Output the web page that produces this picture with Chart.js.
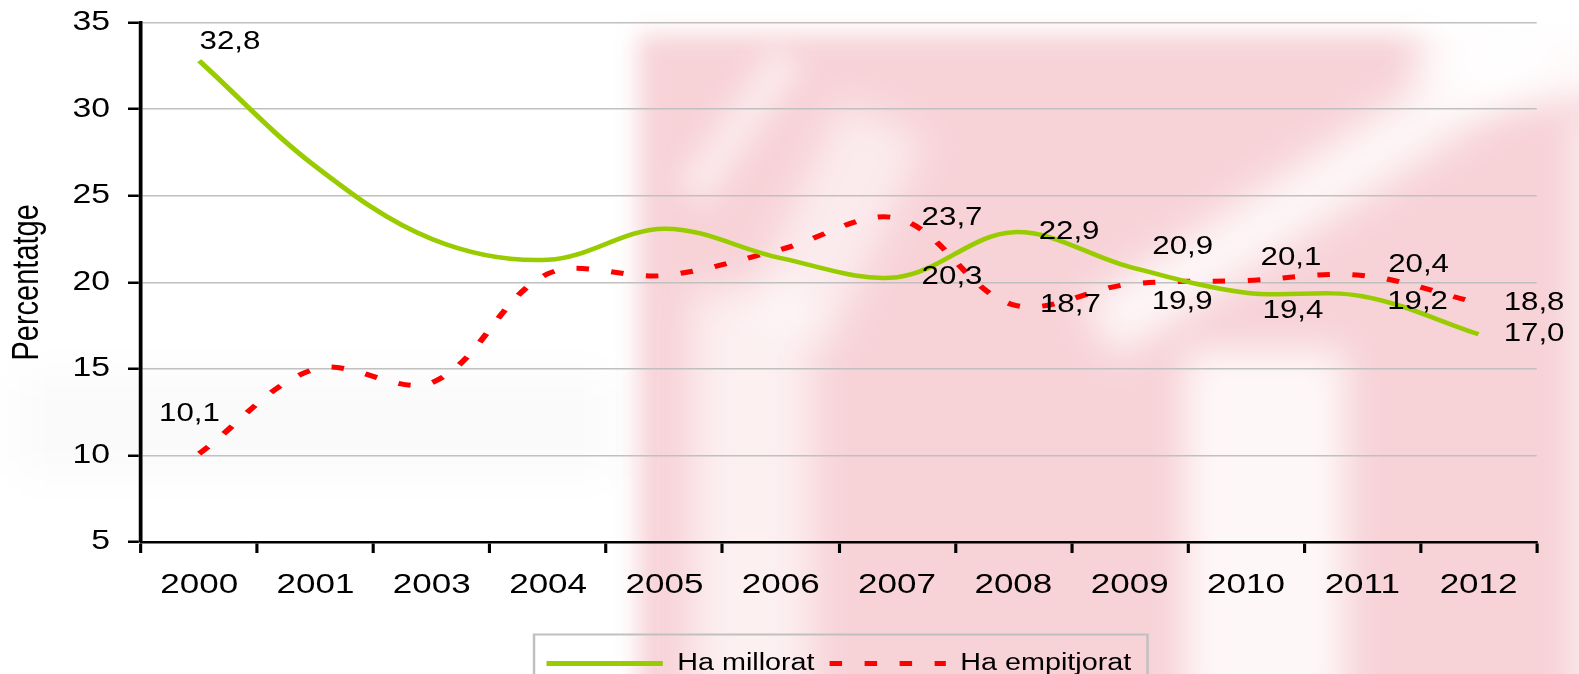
<!DOCTYPE html>
<html>
<head>
<meta charset="utf-8">
<script src="https://cdn.jsdelivr.net/npm/chart.js@4.4.1/dist/chart.umd.min.js"></script>
<style>
  html, body { margin: 0; padding: 0; background: #ffffff; overflow: hidden; }
  #wrap { position: relative; width: 1579px; height: 674px; overflow: hidden; }
  #bg { position: absolute; left: 0; top: 0; width: 1579px; height: 674px; overflow: hidden; }
  #bg div { position: absolute; }
  canvas { position: absolute; left: 0; top: 0; }
</style>
</head>
<body>
<div id="wrap">
  <div id="bg">
    <div style="left:638px;top:34px;width:1000px;height:700px;background:#f7d3d8;filter:blur(12px);"></div>
    <div style="left:1058px;top:157px;width:524px;height:62px;background:rgba(255,255,255,0.8);transform:rotate(-33deg);filter:blur(18px);"></div>
    <div style="left:1420px;top:-20px;width:200px;height:120px;background:rgba(255,255,255,0.9);filter:blur(20px);"></div>
    <div style="left:1185px;top:350px;width:160px;height:360px;background:rgba(255,255,255,0.82);filter:blur(18px);"></div>
    <div style="left:692px;top:290px;width:120px;height:420px;background:rgba(255,255,255,0.65);filter:blur(20px);"></div>
    <div style="left:790px;top:110px;width:90px;height:230px;background:rgba(255,255,255,0.55);transform:rotate(25deg);filter:blur(18px);"></div>
    <div style="left:720px;top:40px;width:40px;height:170px;background:rgba(255,255,255,0.45);transform:rotate(35deg);filter:blur(12px);"></div>
    <div style="left:1565px;top:120px;width:40px;height:600px;background:rgba(255,255,255,0.4);filter:blur(12px);"></div>
    <div style="left:20px;top:375px;width:590px;height:100px;background:rgba(0,0,0,0.02);filter:blur(20px);"></div>
  </div>
  <canvas id="c" width="1263" height="674" style="width:1579px;height:674px"></canvas>
</div>
<script>
// ---- data ----
const categories = ['2000', '2001', '2003', '2004', '2005', '2006', '2007', '2008', '2009', '2010', '2011', '2012'];
const improved   = [32.8, 26.7, 22.5, 21.3, 23.1, 21.4, 20.3, 22.9, 20.9, 19.4, 19.2, 17.0];
const worsened   = [10.1, 15.0, 14.2, 20.5, 20.4, 21.9, 23.7, 18.7, 19.9, 20.1, 20.4, 18.8];
const seriesNames = ['Ha millorat', 'Ha empitjorat'];
const yMin = 5, yMax = 35, yStep = 5;
const yTitle = 'Percentatge';

// ---- style ----
const SX = 1579 / 1263;          // horizontal stretch of the original picture
const FONT = "'Liberation Sans', Arial, Helvetica, sans-serif";
// value-label placement (final pixel offsets from the point), per series, by index
const labelPlacement = [
  {0: [30.8, -18.8], 6: [55, 0], 7: [55.7, 0], 8: [53, -20], 9: [47, 18.3], 10: [55.3, 6.3], 11: [55.5, 0]},
  {0: [-9.7, -39.2], 6: [55, 0], 7: [57, 0], 8: [52.5, 18.4], 9: [45, -22.6], 10: [56.3, -10.4], 11: [55.5, 0]}
];
const fmt = v => v.toFixed(1).replace('.', ',');

const valueLabels = {
  id: 'valueLabels',
  afterDatasetsDraw(chart) {
    const ctx = chart.ctx;
    ctx.save();
    ctx.font = '25px ' + FONT;
    ctx.fillStyle = '#000';
    ctx.textAlign = 'center';
    ctx.textBaseline = 'middle';
    chart.data.datasets.forEach((ds, di) => {
      const meta = chart.getDatasetMeta(di);
      const place = labelPlacement[di];
      ds.data.forEach((v, i) => {
        const off = place[i];
        if (!off) return;
        const el = meta.data[i];
        ctx.fillText(fmt(v), el.x + off[0] / SX, el.y + off[1]);
      });
    });
    ctx.restore();
  }
};

const legendFrame = {
  id: 'legendFrame',
  afterDraw(chart) {
    const lg = chart.legend;
    if (!lg || !lg.legendHitBoxes || !lg.legendHitBoxes.length) return;
    const hb = lg.legendHitBoxes;
    const left = Math.min(...hb.map(h => h.left)) - 10;
    const right = Math.max(...hb.map(h => h.left + h.width)) + 13;
    const top = Math.min(...hb.map(h => h.top)) - 17.5;
    const ctx = chart.ctx;
    ctx.save();
    ctx.strokeStyle = '#c0c0c0';
    ctx.lineWidth = 2;
    ctx.strokeRect(left, top, right - left, 200);
    ctx.restore();
  }
};

const config = {
  type: 'line',
  data: {
    labels: categories,
    datasets: [
      {
        label: seriesNames[0],
        data: improved,
        borderColor: '#99cc00',
        backgroundColor: '#99cc00',
        borderWidth: 4.5,
        tension: 0.35,
        pointRadius: 0,
        fill: false,
        borderJoinStyle: 'round'
      },
      {
        label: seriesNames[1],
        data: worsened,
        borderColor: '#ff0000',
        backgroundColor: '#ff0000',
        borderWidth: 5,
        borderDash: [10, 18],
        borderCapStyle: 'butt',
        tension: 0.35,
        pointRadius: 0,
        fill: false
      }
    ]
  },
  options: {
    responsive: false,
    animation: false,
    events: [],
    layout: { padding: { top: 22.7, right: 33.8, bottom: -11, left: 0 } },
    plugins: {
      tooltip: { enabled: false },
      legend: {
        position: 'bottom',
        fullSize: false,
        labels: {
          color: '#000',
          font: { family: FONT, size: 23 },
          usePointStyle: true,
          pointStyle: 'line',
          pointStyleWidth: 93,
          padding: 12,
          generateLabels(chart) {
            const items = Chart.defaults.plugins.legend.labels.generateLabels(chart);
            items.forEach((it) => {
              const ds = chart.data.datasets[it.datasetIndex];
              it.lineDash = ds.borderDash || [];
              it.lineWidth = 5;
              it.strokeStyle = ds.borderColor;
              it.fillStyle = ds.borderColor;
              it.lineCap = 'butt';
              it.pointStyle = 'line';
            });
            return items;
          }
        }
      }
    },
    scales: {
      x: {
        type: 'category',
        offset: true,
        grid: { display: true, offset: true, drawOnChartArea: false, drawTicks: true, tickLength: 11, tickColor: '#000', tickWidth: 2.5 },
        border: { display: true, color: '#000', width: 2.5 },
        ticks: { color: '#000', font: { family: FONT, size: 28 }, padding: 15.5, maxRotation: 0, autoSkip: false },
        afterFit(s) { s.height = 98; }
      },
      y: {
        min: yMin,
        max: yMax,
        ticks: { stepSize: yStep, color: '#000', font: { family: FONT, size: 27 }, padding: 14.4 },
        grid: { color: '#c0c0c0', lineWidth: 1.5, drawTicks: true, tickLength: 10.4, tickColor: '#000', tickWidth: 2.5 },
        border: { display: true, color: '#000', width: 3 },
        title: { display: true, text: yTitle, color: '#000', font: { family: FONT, size: 29 }, padding: { top: 5, bottom: 0 } },
        afterFit(s) { s.width = 112.8; s.paddingTop = 0; s.paddingBottom = 0; }
      }
    }
  },
  plugins: [valueLabels, legendFrame]
};

const canvas = document.getElementById('c');
const chart = new Chart(canvas, config);
// stretch drawing horizontally like the original picture
canvas.width = 1579;
canvas.height = 674;
chart.ctx.setTransform(SX, 0, 0, 1, 0, 0);
chart.draw();
</script>
</body>
</html>
